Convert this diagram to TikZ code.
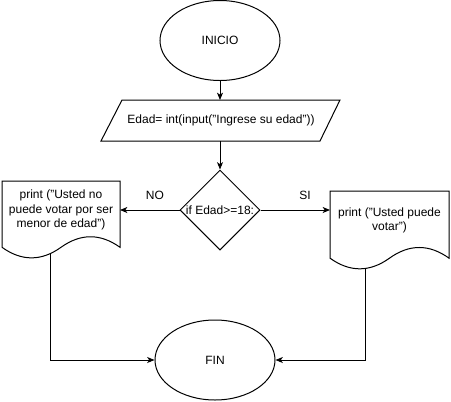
\documentclass[tikz,border=0pt]{standalone}
\usepackage{fontspec}
\setmainfont{Liberation Sans}
\usetikzlibrary{shapes.geometric, arrows.meta}

\begin{document}
\begin{tikzpicture}[x=0.75pt,y=0.75pt,yscale=-1,xscale=1,
    every node/.style={font=\fontsize{9}{10.9}\selectfont},
    linea/.style={line width=0.75pt},
    flecha/.style={linea, -{Stealth[length=5.5pt,width=4.5pt,inset=1.5pt]}},
    terminal/.style={draw, ellipse, linea, minimum width=90pt, minimum height=60pt, inner sep=0pt}]
    \useasboundingbox (0,0) rectangle (451,401);

    %Shape: Ellipse [id:inicio]
    \node (inicio) [terminal] at (220,40.5) {INICIO};
    %Shape: Parallelogram [id:entrada]
    \draw [linea] (122,100) -- (340,100) -- (320,141) -- (101,141) -- cycle ;
    \coordinate (edadTop) at (220,100);
    \coordinate (edadBot) at (220,141);
    % Text Node
    \node (edad) at (221,120.5) {Edad= int(input("Ingrese su edad"))};
    %Shape: Diamond [id:decision]
    \node (decision) [draw, diamond, linea, minimum width=60pt, minimum height=60pt, inner sep=0pt] at (220,210) {};
    % Text Node
    \node (cond) at (decision.center) {if Edad>=18:};

    %Shape: Document [id:docNo]
    \draw [linea] (2,181) -- (120,181) -- (120,247.3) .. controls (100.33,233.23) and (80.67,233.23) .. (61,247.3) .. controls (41.33,261.37) and (21.67,261.37) .. (2,247.3) -- cycle ;
    \coordinate (noEnt) at (120,210);
    \coordinate (noSal) at (50,253.7);
    % Text Node
    \node (txtNo) [align=center] at (61,210) {print ("Usted no\\puede votar por ser\\menor de edad")};

    %Shape: Document [id:docSi]
    \draw [linea] (330,191) -- (449,191) -- (449,258.15) .. controls (429.17,243.93) and (409.33,243.93) .. (389.5,258.15) .. controls (369.67,272.37) and (349.83,272.37) .. (330,258.15) -- cycle ;
    \coordinate (siEnt) at (330,210);
    \coordinate (siSal) at (365,268.5);
    % Text Node
    \node (txtSi) [align=center] at (389.5,220.5) {print ("Usted puede\\votar")};

    %Shape: Ellipse [id:fin]
    \node (fin) [terminal] at (215,360) {FIN};

    %Connectors
    \draw [flecha] (inicio.south) -- (edadTop) ;
    \draw [flecha] (edadBot) -- (decision.north) ;
    \draw [flecha] (decision.west) -- (noEnt) ;
    \draw [flecha] (decision.east) -- (siEnt) ;
    \draw [flecha] (noSal) |- (fin.west) ;
    \draw [flecha] (siSal) |- (fin.east) ;

    % Text Node
    \node (lblNo) at (155,195) {NO};
    % Text Node
    \node (lblSi) at (305,195) {SI};
\end{tikzpicture}
\end{document}
